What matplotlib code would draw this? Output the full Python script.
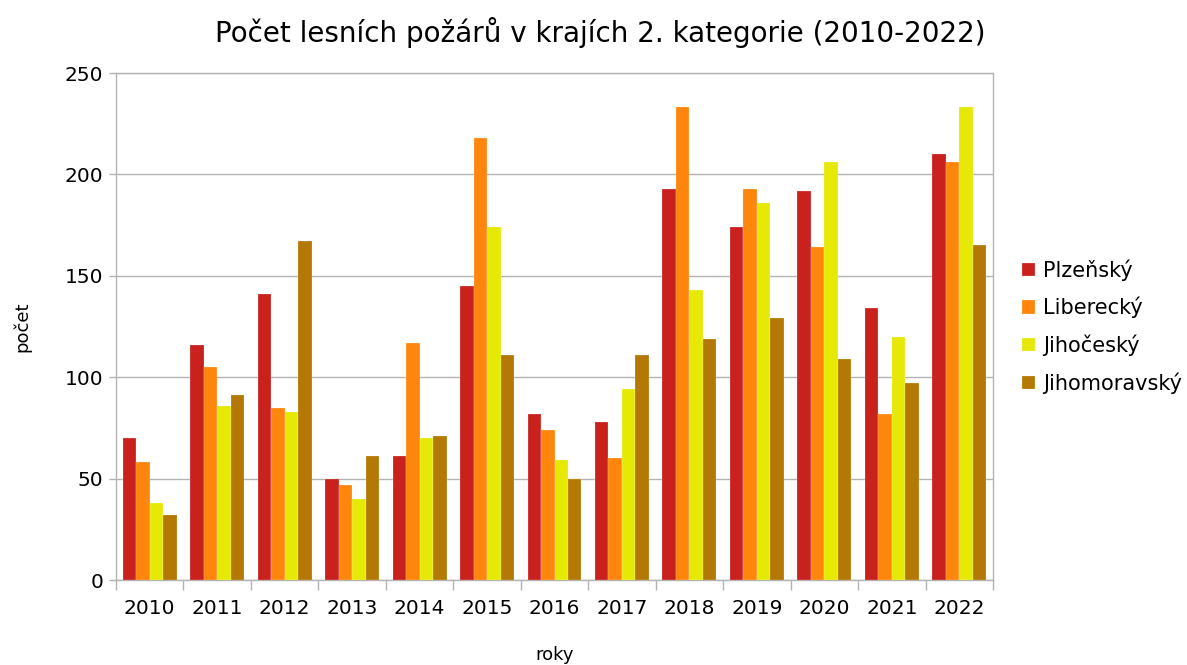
import numpy as np
import matplotlib
matplotlib.use('Agg')
import matplotlib.pyplot as plt

plt.rcParams['font.family'] = ['DejaVu Sans']

years = ['2010', '2011', '2012', '2013', '2014', '2015', '2016',
         '2017', '2018', '2019', '2020', '2021', '2022']
plzensky = [70, 116, 141, 50, 61, 145, 82, 78, 193, 174, 192, 134, 210]
liberecky = [58, 105, 85, 47, 117, 218, 74, 60, 233, 193, 164, 82, 206]
jihocesky = [38, 86, 83, 40, 70, 174, 59, 94, 143, 186, 206, 120, 233]
jihomoravsky = [32, 91, 167, 61, 71, 111, 50, 111, 119, 129, 109, 97, 165]

series = [('Plzeňský', plzensky), ('Liberecký', liberecky),
          ('Jihočeský', jihocesky), ('Jihomoravský', jihomoravsky)]
colors = ['#C9211E', '#FF860D', '#E6E905', '#B47804']

fig = plt.figure(figsize=(11.87, 6.65), dpi=100)
ax = fig.add_axes([0.0977, 0.1278, 0.7389, 0.7624])

x = np.arange(len(years))
w = 0.2
for i, (name, vals) in enumerate(series):
    ax.bar(x + (i - 1.5) * w, vals, w, color=colors[i], label=name,
           edgecolor=(1, 1, 1, 0.5), linewidth=0.3, zorder=3)

ax.set_xlim(-0.5, len(years) - 0.5)
ax.set_ylim(0, 250)
ax.set_yticks([0, 50, 100, 150, 200, 250])
ax.yaxis.grid(True, color='#b3b3b3', linewidth=1, zorder=0)
ax.set_xticks(x)
ax.set_xticklabels(years, fontsize=14.5)
ax.set_xticks(np.arange(-0.5, len(years)), minor=True)
ax.tick_params(axis='x', which='major', length=0, pad=14)
ax.tick_params(axis='x', which='minor', length=7, color='#b3b3b3', width=1)
ax.tick_params(axis='y', length=5, color='#b3b3b3', width=1, labelsize=14.5, pad=4)
for s in ax.spines.values():
    s.set_color('#b3b3b3')
    s.set_linewidth(1)

ax.set_title('Počet lesních požárů v krajích 2. kategorie (2010-2022)',
             fontsize=20, pad=22, x=0.552)
ax.set_ylabel('počet', fontsize=13, labelpad=24)
ax.set_xlabel('roky', fontsize=13, labelpad=20)

ax.legend(loc='center left', bbox_to_anchor=(1.012, 0.5), frameon=False,
          fontsize=15, handlelength=0.6, handleheight=0.6, handletextpad=0.4,
          labelspacing=0.78)

fig.savefig('out.png', dpi=100)
